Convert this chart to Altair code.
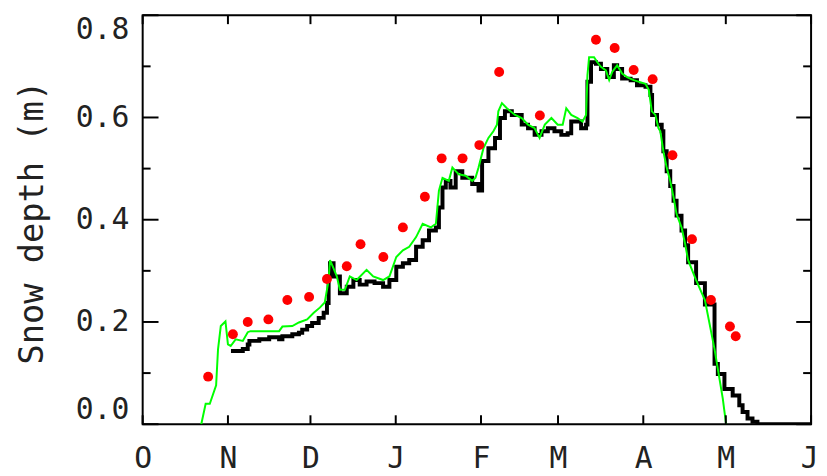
import json
import altair as alt
import pandas as pd

# ---- axis categories / tick values ----
month_letters = ["O", "N", "D", "J", "F", "M", "A", "M", "J"]
month_start_days = [0, 31, 61, 92, 123, 151, 182, 212, 243]   # days since 1 Oct
y_major = [0.0, 0.2, 0.4, 0.6, 0.8]
y_minor = [0.1, 0.3, 0.5, 0.7]

# ---- observed (automatic) snow depth, black ----
obs_day = [32.1, 36.4, 38.2, 38.8, 42.4, 46.0, 49.6, 50.8, 54.4, 56.8, 58.0, 59.8,
           61.6, 64.0, 65.8, 67.0, 67.6, 68.1, 69.4, 71.7, 74.2, 76.6, 78.9, 81.4,
           84.3, 87.4, 89.7, 92.2, 94.6, 96.9, 99.4, 101.8, 104.1, 106.6, 107.7,
           109.0, 110.2, 111.9, 113.8, 116.2, 119.8, 122.1, 123.4, 125.7, 128.1,
           129.9, 131.7, 134.2, 137.8, 140.1, 142.5, 145.0, 147.3, 149.7, 152.2,
           154.5, 155.8, 159.4, 161.2, 161.7, 163.0, 164.8, 166.6, 168.9, 171.3,
           172.5, 174.3, 177.4, 179.7, 182.8, 184.6, 185.2, 187.0, 188.7, 189.3,
           190.5, 191.8, 193.0, 194.1, 195.9, 197.2, 198.3, 201.2, 204.4, 207.9,
           209.1, 211.5, 214.5, 216.9, 218.1, 219.9, 221.7, 223.5, 243.0]
obs_depth = [0.143, 0.147, 0.156, 0.163, 0.166, 0.170, 0.166, 0.172, 0.176, 0.179, 0.185, 0.192,
             0.198, 0.208, 0.218, 0.237, 0.289, 0.315, 0.289, 0.256, 0.269, 0.282, 0.273, 0.279,
             0.276, 0.269, 0.282, 0.308, 0.315, 0.321, 0.347, 0.360, 0.379, 0.385, 0.424,
             0.463, 0.476, 0.463, 0.495, 0.482, 0.470, 0.457, 0.515, 0.540, 0.560,
             0.599, 0.612, 0.605, 0.586, 0.579, 0.566, 0.573, 0.579, 0.573, 0.566,
             0.569, 0.592, 0.579, 0.586, 0.670, 0.708, 0.705, 0.695, 0.679, 0.702,
             0.695, 0.676, 0.673, 0.663, 0.660, 0.644, 0.605, 0.586, 0.573, 0.534,
             0.495, 0.466, 0.437, 0.408, 0.379, 0.350, 0.317, 0.276, 0.234, 0.118,
             0.098, 0.069, 0.056, 0.037, 0.024, 0.011, 0.005, 0.0, 0.0]

# ---- modelled snow depth, green ----
model_day = [21.3, 22.9, 24.4, 26.7, 27.4, 28.4, 30.1, 31.0, 32.0, 33.8, 36.4, 38.2, 39.2,
             49.6, 50.8, 54.4, 56.8, 59.8, 62.2, 64.4, 66.2, 67.6, 68.1, 69.4, 70.6, 71.7,
             73.5, 75.3, 77.8, 81.4, 83.8, 87.4, 89.7, 92.2, 94.6, 96.9, 99.4, 101.8,
             104.8, 106.6, 107.7, 109.0, 111.3, 112.6, 113.8, 114.9, 117.4, 119.8, 121.0,
             122.1, 123.9, 125.7, 127.5, 128.8, 129.3, 130.6, 132.4, 135.4, 137.8, 140.1,
             142.5, 144.3, 146.2, 148.6, 150.9, 152.7, 154.0, 155.8, 158.1, 159.9, 161.2,
             161.7, 162.3, 164.1, 165.3, 166.6, 168.4, 169.6, 170.7, 172.5, 174.3, 176.1,
             178.5, 182.8, 184.0, 185.1, 186.4, 187.5, 188.2, 189.3, 190.5, 191.8, 193.0,
             194.1, 195.9, 197.2, 198.3, 201.2, 204.4, 207.9, 210.9, 212.1]
model_depth = [0.0, 0.040, 0.040, 0.076, 0.147, 0.192, 0.201, 0.156, 0.153, 0.166, 0.163, 0.180, 0.182,
               0.182, 0.191, 0.192, 0.199, 0.205, 0.218, 0.228, 0.238, 0.282, 0.321, 0.305, 0.289, 0.263,
               0.263, 0.289, 0.282, 0.302, 0.289, 0.282, 0.289, 0.327, 0.340, 0.347, 0.366, 0.392,
               0.385, 0.392, 0.457, 0.482, 0.476, 0.502, 0.495, 0.489, 0.486, 0.476, 0.482,
               0.502, 0.540, 0.560, 0.573, 0.586, 0.612, 0.628, 0.618, 0.605, 0.599, 0.586,
               0.579, 0.560, 0.586, 0.599, 0.586, 0.586, 0.618, 0.605, 0.599, 0.592, 0.605,
               0.683, 0.718, 0.718, 0.708, 0.699, 0.692, 0.673, 0.689, 0.702, 0.686, 0.679,
               0.673, 0.666, 0.654, 0.612, 0.605, 0.579, 0.573, 0.534, 0.502, 0.476, 0.444,
               0.411, 0.385, 0.353, 0.321, 0.282, 0.243, 0.147, 0.050, 0.0]

# ---- manual measurements, red dots ----
manual_day = [23.8, 32.8, 38.2, 45.7, 52.6, 60.5, 67.0, 74.2, 79.2, 87.5, 94.6, 102.6, 108.7,
              116.3, 122.4, 129.6, 144.4, 164.8, 171.6, 178.5, 185.4, 192.6, 199.7, 206.6,
              213.5, 215.6]
manual_depth = [0.093, 0.176, 0.200, 0.205, 0.243, 0.249, 0.284, 0.309, 0.352, 0.327, 0.385, 0.445, 0.520,
                0.520, 0.546, 0.689, 0.604, 0.752, 0.736, 0.693, 0.675, 0.526, 0.362, 0.243,
                0.191, 0.172]

W, H = 675, 413
FONT = "DejaVu Sans Mono"
TEXT = "#222222"

xscale = alt.Scale(domain=[0, 243], nice=False, zero=False)
yscale = alt.Scale(domain=[0, 0.8], nice=False, zero=False)

label_expr = f"{json.dumps(month_letters)}[indexof({json.dumps(month_start_days)}, datum.value)]"
last_day = month_start_days[-1]

x_axis = alt.Axis(values=month_start_days, labelExpr=label_expr, title=None, grid=False,
                  domain=False, ticks=False, labelFont=FONT, labelFontSize=30,
                  labelColor=TEXT, labelPadding=20, labelAngle=0, labelFlush=False,
                  labelOverlap=False,
                  labelAlign=alt.condition(f"datum.value == {last_day}",
                                           alt.value("right"), alt.value("center")),
                  labelOffset=alt.condition(f"datum.value == {last_day}",
                                            alt.value(7), alt.value(0)))
y_axis = alt.Axis(values=y_major, format=".1f", title="Snow depth (m)", grid=False,
                  domain=False, ticks=False, labelFont=FONT, labelFontSize=30,
                  labelColor=TEXT, labelPadding=14, labelFlush=True, labelOverlap=False,
                  titleFont=FONT, titleFontSize=34, titleFontWeight="normal",
                  titleColor=TEXT, titleX=-111, titleY=209, titleBaseline="middle",
                  titleAlign="center", titleAngle=270)

df_obs = pd.DataFrame({"day": obs_day, "depth": obs_depth})
df_model = pd.DataFrame({"day": model_day, "depth": model_depth})
df_manual = pd.DataFrame({"day": manual_day, "depth": manual_depth})
df_xt = pd.DataFrame({"day": month_start_days})
df_ymaj = pd.DataFrame({"depth": y_major})
df_ymin = pd.DataFrame({"depth": y_minor})

obs = alt.Chart(df_obs).mark_line(color="black", strokeWidth=4, interpolate="step-after",
                                  clip=True).encode(
    x=alt.X("day:Q", scale=xscale, axis=x_axis),
    y=alt.Y("depth:Q", scale=yscale, axis=y_axis),
)
model = alt.Chart(df_model).mark_line(color="#00ff00", strokeWidth=2, clip=True).encode(
    x="day:Q", y="depth:Q")
manual = alt.Chart(df_manual).mark_circle(color="#ff0000", size=100, opacity=1).encode(
    x="day:Q", y="depth:Q")

tick_style = dict(color="black", strokeWidth=2)
xt_bottom = alt.Chart(df_xt).mark_rule(**tick_style).encode(
    x="day:Q", y=alt.value(H), y2=alt.value(H - 9))
xt_top = alt.Chart(df_xt).mark_rule(**tick_style).encode(
    x="day:Q", y=alt.value(0), y2=alt.value(9))
yt_left_major = alt.Chart(df_ymaj).mark_rule(**tick_style).encode(
    y="depth:Q", x=alt.value(0), x2=alt.value(16))
yt_left_minor = alt.Chart(df_ymin).mark_rule(**tick_style).encode(
    y="depth:Q", x=alt.value(0), x2=alt.value(8))
yt_right_major = alt.Chart(df_ymaj).mark_rule(**tick_style).encode(
    y="depth:Q", x=alt.value(W), x2=alt.value(W - 15))
yt_right_minor = alt.Chart(df_ymin).mark_rule(**tick_style).encode(
    y="depth:Q", x=alt.value(W), x2=alt.value(W - 8))

chart = alt.layer(
    obs, model, manual,
    xt_bottom, xt_top, yt_left_major, yt_left_minor, yt_right_major, yt_right_minor,
).properties(
    width=W, height=H,
    padding={"left": 136, "top": 5, "right": 8, "bottom": 50},
    autosize="none",
    background="white",
).configure_view(stroke="black", strokeWidth=2)

chart.save("out.html", embed_options={"renderer": "svg", "actions": False})
